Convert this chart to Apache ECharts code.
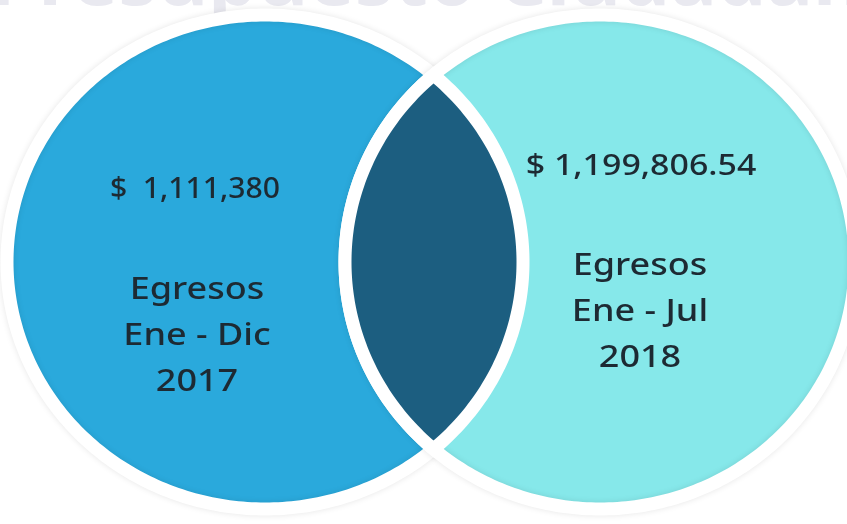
<!DOCTYPE html>
<html><head><meta charset="utf-8">
<script src="https://cdn.jsdelivr.net/npm/echarts@6/dist/echarts.min.js"></script>
<style>html,body{margin:0;padding:0;background:#fff}#c{width:847px;height:524px}</style>
</head><body><div id="c"></div>
<script>
// ---- data ----
const setNames = ['Egresos Ene - Dic 2017', 'Egresos Ene - Jul 2018'];
const setValues = [1111380, 1199806.54];
const amountLabels = ['$  1,111,380', '$ 1,199,806.54'];
const descLines = [['Egresos', 'Ene - Dic', '2017'], ['Egresos', 'Ene - Jul', '2018']];

// ---- styles / layout ----
const setColors = ['#2AA9DC', '#86E8EA'];
const overlapColor = '#1C5E80';
const textColor = '#1D2A33';
const FONT = '"Noto Sans", sans-serif';
const layout = {
  cx: [265, 600], cy: 262, rx: [258, 255], ry: 247, stroke: 13,
  amountPos: [[195, 190], [641, 167]],
  descPos: [[197, 290], [640, 266]],
  lineGap: 46,
  amountScale: [1.04, 1.17], descScale: 1.2
};

function ellipsePts(cx, cy, rx, ry, n) {
  const pts = [];
  for (let i = 0; i < n; i++) {
    const a = i / n * Math.PI * 2;
    pts.push([cx + rx * Math.cos(a), cy + ry * Math.sin(a)]);
  }
  return pts;
}
function lensPts() {
  const cxL = layout.cx[0], cxR = layout.cx[1], rxL = layout.rx[0], rxR = layout.rx[1];
  const f0 = (cxR - cxL) / (rxL + rxR);
  const t0 = Math.sqrt(1 - f0 * f0);
  const n = 120, pts = [];
  for (let i = 0; i <= n; i++) {
    const t = -t0 + 2 * t0 * i / n;
    pts.push([cxL + rxL * Math.sqrt(Math.max(0, 1 - t * t)), layout.cy + t * layout.ry]);
  }
  for (let i = n; i >= 0; i--) {
    const t = -t0 + 2 * t0 * i / n;
    pts.push([cxR - rxR * Math.sqrt(Math.max(0, 1 - t * t)), layout.cy + t * layout.ry]);
  }
  return pts;
}

const seriesData = setNames.map((n, i) => ({ name: n, value: setValues[i] }))
  .concat([{ name: 'overlap', value: 0 }]);

function renderItem(params, api) {
  const i = params.dataIndex;
  if (i < 2) {
    return {
      type: 'polygon',
      shape: { points: ellipsePts(layout.cx[i], layout.cy, layout.rx[i], layout.ry, 360) },
      style: { fill: setColors[i], stroke: '#ffffff', lineWidth: layout.stroke,
               shadowBlur: 6, shadowColor: 'rgba(0,0,0,0.10)' }
    };
  }
  return {
    type: 'polygon',
    shape: { points: lensPts() },
    style: { fill: overlapColor, stroke: '#ffffff', lineWidth: layout.stroke }
  };
}

const textEls = [];
for (let i = 0; i < 2; i++) {
  textEls.push({
    type: 'text', z: 100, x: layout.amountPos[i][0], y: layout.amountPos[i][1],
    scaleX: layout.amountScale[i],
    style: { text: amountLabels[i], fill: textColor, font: '500 29px ' + FONT,
             align: 'center', verticalAlign: 'middle' }
  });
  descLines[i].forEach((ln, k) => {
    textEls.push({
      type: 'text', z: 100, x: layout.descPos[i][0], y: layout.descPos[i][1] + k * layout.lineGap,
      scaleX: layout.descScale,
      style: { text: ln, fill: textColor, font: '500 30px ' + FONT,
               align: 'center', verticalAlign: 'middle' }
    });
  });
}

const chart = echarts.init(document.getElementById('c'), null, { renderer: 'canvas' });
chart.setOption({
  backgroundColor: '#ffffff',
  animation: false,
  graphic: [{
    type: 'text', z: -10, left: -10, top: -56,
    style: { text: 'Presupuesto Ciudadano', fill: '#e9e9f0', font: 'bold 78px ' + FONT }
  }].concat(textEls),
  series: [{
    type: 'custom',
    coordinateSystem: 'none',
    renderItem: renderItem,
    data: seriesData
  }]
});
</script></body></html>
